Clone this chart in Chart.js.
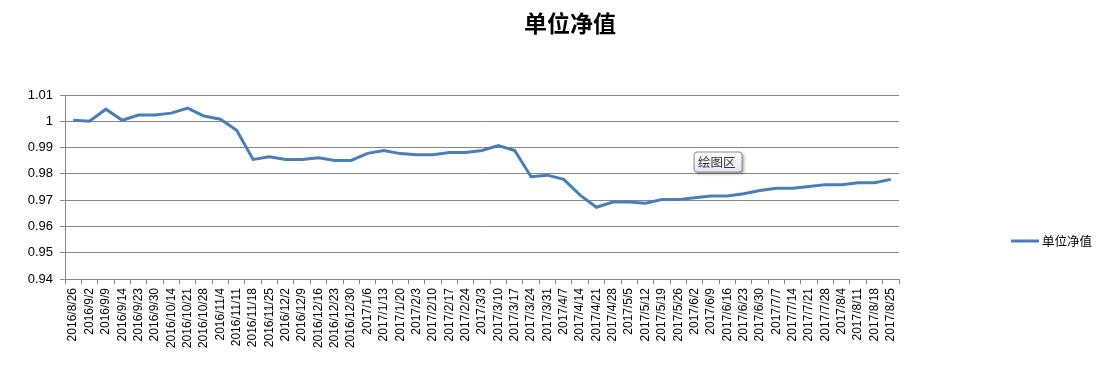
<!DOCTYPE html>
<html>
<head>
<meta charset="utf-8">
<script src="https://cdn.jsdelivr.net/npm/chart.js@4"></script>
<style>
  html, body { margin: 0; padding: 0; background: #fff; }
  #wrap { width: 1109px; height: 377px; }
</style>
</head>
<body>
<div id="wrap"><canvas id="chart-nav"></canvas></div>
<script>
var dates = ["2016/8/26", "2016/9/2", "2016/9/9", "2016/9/14", "2016/9/23", "2016/9/30", "2016/10/14", "2016/10/21",
  "2016/10/28", "2016/11/4", "2016/11/11", "2016/11/18", "2016/11/25", "2016/12/2", "2016/12/9", "2016/12/16",
  "2016/12/23", "2016/12/30", "2017/1/6", "2017/1/13", "2017/1/20", "2017/2/3", "2017/2/10", "2017/2/17",
  "2017/2/24", "2017/3/3", "2017/3/10", "2017/3/17", "2017/3/24", "2017/3/31", "2017/4/7", "2017/4/14",
  "2017/4/21", "2017/4/28", "2017/5/5", "2017/5/12", "2017/5/19", "2017/5/26", "2017/6/2", "2017/6/9",
  "2017/6/16", "2017/6/23", "2017/6/30", "2017/7/7", "2017/7/14", "2017/7/21", "2017/7/28", "2017/8/4",
  "2017/8/11", "2017/8/18", "2017/8/25"]
var nav = [1.0004, 1.0000, 1.0046, 1.0004, 1.0024, 1.0024, 1.0031, 1.0050, 1.0020, 1.0008,
  0.9966, 0.9855, 0.9865, 0.9855, 0.9855, 0.9861, 0.9851, 0.9851, 0.9878, 0.9889,
  0.9877, 0.9873, 0.9873, 0.9881, 0.9881, 0.9889, 0.9908, 0.9889, 0.9789, 0.9795,
  0.9779, 0.9719, 0.9673, 0.9693, 0.9693, 0.9688, 0.9702, 0.9702, 0.9709, 0.9716,
  0.9716, 0.9724, 0.9737, 0.9745, 0.9745, 0.9752, 0.9759, 0.9759, 0.9766, 0.9766, 0.9779]
var seriesName = "单位净值"
var axisColor = "#868686"
var lineColor = "#4a7ebb"

// title, legend and the little "绘图区" hover label are painted by hand
var extras = {
  id: "extras",
  afterDraw: function(chart) {
    var c = chart.ctx
    c.save()
    c.fillStyle = "#000"
    c.textBaseline = "middle"
    c.textAlign = "center"
    c.font = "bold 23px 'Noto Sans CJK SC'"
    c.fillText(seriesName, 570, 23)

    // legend
    c.strokeStyle = lineColor
    c.lineWidth = 3
    c.beginPath()
    c.moveTo(1011, 241)
    c.lineTo(1039, 241)
    c.stroke()
    c.textAlign = "left"
    c.font = "12.5px 'Noto Sans CJK SC'"
    c.fillText(seriesName, 1042, 241)

    // hover label
    c.shadowColor = "rgba(0,0,0,0.35)"
    c.shadowOffsetX = 2
    c.shadowOffsetY = 2
    c.shadowBlur = 3
    var g = c.createLinearGradient(0, 152, 0, 172)
    g.addColorStop(0, "#ffffff")
    g.addColorStop(1, "#e4e5f0")
    c.fillStyle = g
    c.beginPath()
    c.roundRect(694, 152, 48, 20, 3)
    c.fill()
    c.shadowColor = "transparent"
    c.strokeStyle = "#8a8a8a"
    c.lineWidth = 1
    c.stroke()
    c.fillStyle = "#333"
    c.font = "12.5px 'Noto Sans CJK SC'"
    c.fillText("绘图区", 698, 162)
    c.restore()
  }
}

var ctx = document.getElementById("chart-nav").getContext("2d")
var chartNav = new Chart(ctx, {
  type: "line",
  data: {
    labels: dates,
    datasets: [{
      label: seriesName,
      data: nav,
      borderColor: lineColor,
      borderWidth: 3,
      pointRadius: 0,
      tension: 0,
      fill: false
    }]
  },
  options: {
    responsive: true,
    maintainAspectRatio: false,
    animation: false,
    layout: { padding: { top: 95, left: 0, right: 210, bottom: 0 } },
    plugins: {
      legend: { display: false },
      title: { display: false },
      tooltip: { enabled: false }
    },
    scales: {
      x: {
        offset: true,
        grid: { offset: true, drawOnChartArea: false, drawTicks: true, tickLength: 5, color: axisColor },
        border: { color: axisColor },
        ticks: {
          autoSkip: false, minRotation: 90, maxRotation: 90, padding: 4,
          color: "#000", font: { family: "'Liberation Sans', Arial", size: 12 }
        },
        afterFit: function(s) { s.height = 98 }
      },
      y: {
        min: 0.94,
        max: 1.01,
        grid: { color: axisColor, tickLength: 5 },
        border: { color: axisColor },
        ticks: {
          stepSize: 0.01, padding: 7, color: "#000",
          font: { family: "'Liberation Sans', Arial", size: 13 },
          callback: function(v) { return String(+v.toFixed(2)) }
        },
        afterFit: function(s) { s.width = 65 }
      }
    }
  },
  plugins: [extras]
})
</script>
</body>
</html>
